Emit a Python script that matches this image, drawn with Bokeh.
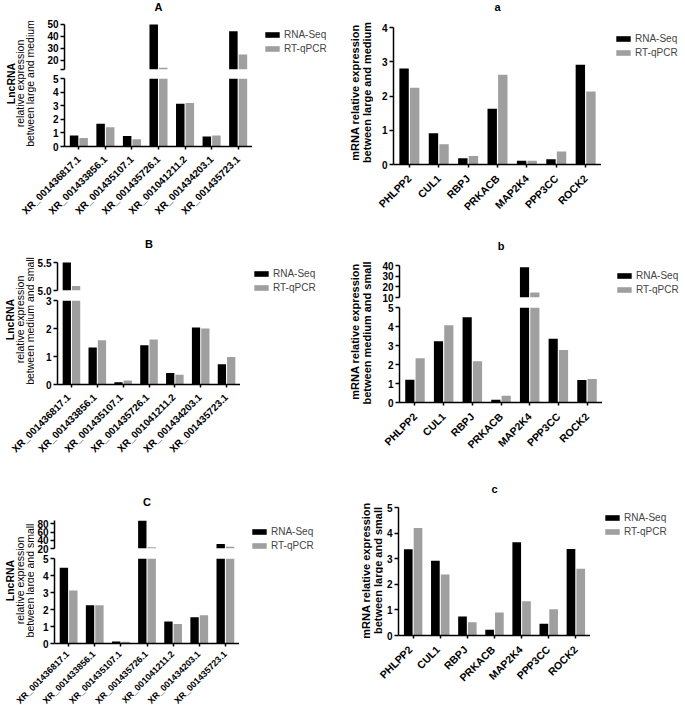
import math
from bokeh.plotting import figure
from bokeh.models import (Range1d, FixedTicker, Legend, LegendItem, Label, ColumnDataSource,
                          CDSView, BooleanFilter)
from bokeh.core.properties import value
from bokeh.transform import dodge
from bokeh.layouts import row, column
from bokeh.embed import file_html
from bokeh.resources import INLINE

# ---------------- data ----------------
lnc_names = ["XR_001436817.1", "XR_001433856.1", "XR_001435107.1", "XR_001435726.1",
             "XR_001041211.2", "XR_001434203.1", "XR_001435723.1"]
gene_names = ["PHLPP2", "CUL1", "RBPJ", "PRKACB", "MAP2K4", "PPP3CC", "ROCK2"]
series_names = ["RNA-Seq", "RT-qPCR"]

A_seq = [0.81, 1.67, 0.77, 50.0, 3.15, 0.74, 44.4]
A_qpcr = [0.63, 1.42, 0.53, 14.2, 3.20, 0.81, 25.2]
a_seq = [2.80, 0.91, 0.18, 1.63, 0.11, 0.15, 2.91]
a_qpcr = [2.24, 0.59, 0.25, 2.62, 0.11, 0.38, 2.13]
B_seq = [5.50, 1.32, 0.08, 1.40, 0.41, 2.04, 0.72]
B_qpcr = [5.08, 1.58, 0.14, 1.61, 0.35, 2.00, 0.98]
b_seq = [1.20, 3.23, 4.49, 0.14, 38.4, 3.36, 1.18]
b_qpcr = [2.33, 4.06, 2.17, 0.35, 14.7, 2.76, 1.24]
C_seq = [4.45, 2.25, 0.12, 87.5, 1.29, 1.54, 31.0]
C_qpcr = [3.12, 2.25, 0.10, 23.0, 1.15, 1.66, 24.5]
c_seq = [3.37, 2.92, 0.74, 0.22, 3.64, 0.46, 3.38]
c_qpcr = [4.20, 2.38, 0.52, 0.90, 1.34, 1.03, 2.61]

# axis segments (lower, upper) and tick values
A_low, A_up = (0, 5), (12.8, 50)
A_low_ticks, A_up_ticks = [0, 1, 2, 3, 4, 5], [20, 30, 40, 50]
a_rng, a_ticks = (0, 4), [0, 1, 2, 3, 4]
B_low, B_up = (0, 3), (5.0, 5.5)
B_low_ticks, B_up_ticks = [0, 1, 2, 3], [5.0, 5.5]
b_low, b_up = (0, 5), (10, 40)
b_low_ticks, b_up_ticks = [0, 1, 2, 3, 4, 5], [10, 20, 30, 40]
C_low, C_up = (0, 5), (20, 88)
C_low_ticks, C_up_ticks = [0, 1, 2, 3, 4, 5], [20, 40, 60, 80]
c_rng, c_ticks = (0, 5), [0, 1, 2, 3, 4, 5]

# ---------------- style ----------------
FONT = "Liberation Sans"
BLACK = "#000000"
GREY = "#9f9f9f"
BAR_W = 0.32
OFF = 0.18
PAD = 0.54
LEG_H = 2 * 11.2 + 3


def tick_labels(ticks, extra=None):
    frac = any(float(t) != int(t) for t in ticks)
    d = {t: (f"{t:.1f}" if frac else f"{int(t)}") for t in ticks}
    if extra is not None and extra not in d:
        d[extra] = " "
    return d


def style_y(p, ticks, bounds, extra=None):
    ax = p.yaxis[0]
    all_t = list(ticks) + ([extra] if extra is not None and extra not in ticks else [])
    ax.ticker = FixedTicker(ticks=all_t)
    ax.major_label_overrides = tick_labels(ticks, extra)
    ax.bounds = bounds
    ax.axis_line_width = 1.5
    ax.major_tick_line_width = 1.5
    ax.major_tick_in = 0
    ax.major_tick_out = 4
    ax.minor_tick_line_color = None
    ax.major_label_standoff = 2
    ax.major_label_text_font = FONT
    ax.major_label_text_font_style = "bold"
    ax.major_label_text_font_size = "10px"
    ax.major_label_text_color = "black"


def style_x_line(p, n):
    ax = p.xaxis[0]
    ax.ticker = FixedTicker(ticks=list(range(n)))
    ax.axis_line_width = 1.5
    ax.major_tick_line_width = 1.5
    ax.major_tick_in = 0
    ax.major_tick_out = 3
    ax.minor_tick_line_color = None
    ax.major_label_standoff = 0
    ax.major_label_text_font_size = "0px"
    ax.major_label_text_alpha = 0


def plain_fig(width, height, xr, yr):
    f = figure(width=width, height=height, x_range=xr, y_range=yr,
               output_backend="svg", toolbar_location=None, tools="",
               x_axis_location=None, y_axis_location=None, min_border=0)
    f.outline_line_color = None
    f.xgrid.visible = False
    f.ygrid.visible = False
    return f


def base_fig(x_range, y_range, width, height, mbl, mbt, mbb, xaxis):
    p = figure(x_range=x_range, y_range=y_range, width=width, height=height,
               output_backend="svg", toolbar_location=None, tools="",
               x_axis_location="below" if xaxis else None, y_axis_location="left",
               min_border_left=mbl, min_border_top=mbt, min_border_bottom=mbb,
               min_border_right=0)
    p.outline_line_color = None
    p.xgrid.visible = False
    p.ygrid.visible = False
    p.background_fill_color = "white"
    p.border_fill_color = "white"
    return p


def add_bars(p, src, seq, qpcr, floor=None):
    kw1, kw2 = {}, {}
    if floor is not None:
        kw1["view"] = CDSView(filter=BooleanFilter(booleans=[v > floor for v in seq]))
        kw2["view"] = CDSView(filter=BooleanFilter(booleans=[v > floor for v in qpcr]))
    r1 = p.vbar(x=dodge("x", -OFF), top="seq", bottom=0, width=BAR_W,
                source=src, fill_color=BLACK, line_color=None, **kw1)
    r2 = p.vbar(x=dodge("x", OFF), top="qpcr", bottom=0, width=BAR_W,
                source=src, fill_color=GREY, line_color=None, **kw2)
    return r1, r2


def legend_fig(g, hu):
    x_left = g["fl"] + g["fw"]
    w = g["x0"] + g["W"] - x_left
    f = plain_fig(w, hu, Range1d(0, w), Range1d(0, hu))
    # zero-height proxies (outside the visible range) that only carry the legend styling
    proxy = ColumnDataSource(dict(x=[-1.0], top=[0.0]))
    r1 = f.vbar(x="x", top="top", bottom=0, width=1, source=proxy, fill_color=BLACK, line_color=None)
    r2 = f.vbar(x="x", top="top", bottom=0, width=1, source=proxy, fill_color=GREY, line_color=None)
    vx = g["leg"][0] - x_left
    vy = (g["y0"] + hu) - (g["leg"][1] + LEG_H)
    leg = Legend(items=[LegendItem(label=series_names[0], renderers=[r1]),
                        LegendItem(label=series_names[1], renderers=[r2])],
                 location=(vx, vy), orientation="vertical", padding=0, margin=0,
                 spacing=3, glyph_width=18, glyph_height=7, label_standoff=3,
                 label_height=11, label_width=10,
                 label_text_font=FONT, label_text_font_size="10px",
                 border_line_color=None, background_fill_alpha=0)
    f.add_layout(leg)
    return f


def add_title(p, text, n, y):
    p.add_layout(Label(x=(n - 1) / 2, y=y, text=text, text_align="center", text_baseline="middle",
                       text_font=FONT, text_font_style="bold", text_font_size="11px",
                       text_color="black"))


def label_fig(width, height, lines):
    f = plain_fig(width, height, Range1d(0, width), Range1d(0, height))
    for (x, y, text, style, size) in lines:
        f.add_layout(Label(x=x, y=y, text=text, angle=math.pi / 2, text_align="center",
                           text_baseline="middle", text_font=FONT, text_font_style=style,
                           text_font_size=size, text_color="black"))
    return f


def xlabel_fig(cats, g, size):
    n = len(cats)
    ppu = g["fw"] / (n - 1 + 2 * PAD)
    xs = -PAD - (g["fl"] - g["x0"]) / ppu
    xe = xs + g["W"] / ppu
    hx = g["y0"] + g["H"] - g["bottom"] - g["xb"]
    f = plain_fig(g["W"], hx, Range1d(xs, xe), Range1d(-hx, 0))
    src = ColumnDataSource(dict(x=list(range(n)), name=cats))
    f.text(x="x", y=-(g["drop"] - g["xb"]), text="name", source=src, angle=math.pi / 4,
           text_align="right", text_baseline="middle", text_font=value(FONT),
           text_font_style="bold", text_font_size=size, text_color="black")
    return f


def make_source(cats, seq, qpcr):
    return ColumnDataSource(dict(x=list(range(len(cats))), cat=cats, seq=seq, qpcr=qpcr))


def broken_block(cats, seq, qpcr, low, up, low_t, up_t, g, title, labels, xsize):
    mbl = g["fl"] - g["x0"] - g["lw"]
    mw = mbl + g["fw"]
    n = len(cats)
    xr = Range1d(-PAD, n - 1 + PAD)
    src = make_source(cats, seq, qpcr)
    gap_top = g["gap"] // 2
    gap_bot = g["gap"] - gap_top
    head = g["up_top"] - g["y0"]            # space above the segment, inside the frame
    ppu = g["up_h"] / (up[1] - up[0])
    top_h = head + g["up_h"] + gap_top
    pt = base_fig(xr, Range1d(up[0], up[1] + head / ppu), mw, top_h, mbl, 0, gap_top, False)
    add_bars(pt, src, seq, qpcr, floor=up[0])
    style_y(pt, up_t, up, extra=(up[0] if up[0] not in up_t else None))
    add_title(pt, title, n, up[1] + (g["up_top"] - g["ty"]) / ppu)
    bot_h = gap_bot + g["low_h"] + g["xb"]
    pb = base_fig(xr, Range1d(*low), mw, bot_h, mbl, gap_bot, g["xb"], True)
    add_bars(pb, src, seq, qpcr)
    style_y(pb, low_t, low)
    style_x_line(pb, n)
    hu = top_h + bot_h
    lf = label_fig(g["lw"], hu, labels)
    lg = legend_fig(g, hu)
    upper = row(lf, column(pt, pb, spacing=0, width=mw, height=hu),
                column(lg, spacing=0, width=lg.width, height=hu),
                spacing=0, width=g["W"], height=hu)
    xl = xlabel_fig(cats, g, xsize)
    return column(upper, xl, spacing=0, width=g["W"], height=g["H"])


def single_block(cats, seq, qpcr, rng, ticks, g, title, labels, xsize):
    mbl = g["fl"] - g["x0"] - g["lw"]
    mw = mbl + g["fw"]
    n = len(cats)
    xr = Range1d(-PAD, n - 1 + PAD)
    src = make_source(cats, seq, qpcr)
    head = g["top"] - g["y0"]
    ppu = g["h"] / (rng[1] - rng[0])
    hu = head + g["h"] + g["xb"]
    p = base_fig(xr, Range1d(rng[0], rng[1] + head / ppu), mw, hu, mbl, 0, g["xb"], True)
    add_bars(p, src, seq, qpcr)
    style_y(p, ticks, rng)
    style_x_line(p, n)
    add_title(p, title, n, rng[1] + (g["top"] - g["ty"]) / ppu)
    lf = label_fig(g["lw"], hu, labels)
    lg = legend_fig(g, hu)
    upper = row(lf, column(p, spacing=0, width=mw, height=hu),
                column(lg, spacing=0, width=lg.width, height=hu),
                spacing=0, width=g["W"], height=hu)
    xl = xlabel_fig(cats, g, xsize)
    return column(upper, xl, spacing=0, width=g["W"], height=g["H"])


# ---------------- layout geometry (page pixels) ----------------
gA = dict(x0=0, W=345, y0=0, H=216, lw=36, fl=64, fw=188, up_top=24, up_h=45, gap=9, low_h=68,
          leg=(263, 29), ty=6, xb=6, drop=11)
gA["bottom"] = gA["up_top"] + gA["up_h"] + gA["gap"] + gA["low_h"]
ga = dict(x0=345, W=340, y0=0, H=216, lw=28, fl=393, fw=208, top=27, h=137,
          leg=(614, 33), ty=6, xb=6, drop=12)
ga["bottom"] = ga["top"] + ga["h"]
gB = dict(x0=0, W=345, y0=216, H=244, lw=34, fl=54, fw=186, up_top=262, up_h=28, gap=10, low_h=84,
          leg=(252, 267.5), ty=243, xb=6, drop=11)
gB["bottom"] = gB["up_top"] + gB["up_h"] + gB["gap"] + gB["low_h"]
gb = dict(x0=345, W=340, y0=216, H=244, lw=28, fl=399, fw=203, up_top=265, up_h=32, gap=10, low_h=95,
          leg=(615, 270), ty=245, xb=6, drop=12)
gb["bottom"] = gb["up_top"] + gb["up_h"] + gb["gap"] + gb["low_h"]
gC = dict(x0=0, W=345, y0=460, H=245, lw=34, fl=53, fw=186, up_top=520, up_h=28, gap=10, low_h=85,
          leg=(250, 525.5), ty=501, xb=5, drop=9)
gC["bottom"] = gC["up_top"] + gC["up_h"] + gC["gap"] + gC["low_h"]
gc = dict(x0=345, W=340, y0=460, H=245, lw=38, fl=395, fw=195, top=507, h=128,
          leg=(603, 511.5), ty=488, xb=6, drop=12)
gc["bottom"] = gc["top"] + gc["h"]


def ylab_lines(g, xs, center_y, texts, styles, size):
    hu = g["bottom"] + g["xb"] - g["y0"]
    y = hu - (center_y - g["y0"])
    return [(x - g["x0"], y, t, s, sz) for x, t, s, sz in zip(xs, texts, styles, size)]


labA = ylab_lines(gA, [10, 19.5, 29.5], 83,
                  ["LncRNA", "relative expression", "between large and medium"],
                  ["bold", "normal", "normal"], ["10.5px"] * 3)
laba = ylab_lines(ga, [354.5, 366.5], 92,
                  ["mRNA relative expression", "between large and medium"],
                  ["bold", "bold"], ["11px"] * 2)
labB = ylab_lines(gB, [9.5, 19, 29], 319,
                  ["LncRNA", "relative expression", "between  medium and small"],
                  ["bold", "normal", "normal"], ["10.5px"] * 3)
labb = ylab_lines(gb, [354.5, 366.5], 331,
                  ["mRNA relative expression", "between  medium and small"],
                  ["bold", "bold"], ["11px"] * 2)
labC = ylab_lines(gC, [9.5, 19, 29], 580,
                  ["LncRNA", "relative expression", "between large and small"],
                  ["bold", "normal", "normal"], ["10.5px"] * 3)
labc = ylab_lines(gc, [365, 377], 570,
                  ["mRNA relative expression", "between large and small"],
                  ["bold", "bold"], ["11px"] * 2)

blkA = broken_block(lnc_names, A_seq, A_qpcr, A_low, A_up, A_low_ticks, A_up_ticks, gA, "A", labA, "10px")
blka = single_block(gene_names, a_seq, a_qpcr, a_rng, a_ticks, ga, "a", laba, "10.5px")
blkB = broken_block(lnc_names, B_seq, B_qpcr, B_low, B_up, B_low_ticks, B_up_ticks, gB, "B", labB, "10px")
blkb = broken_block(gene_names, b_seq, b_qpcr, b_low, b_up, b_low_ticks, b_up_ticks, gb, "b", labb, "10.5px")
blkC = broken_block(lnc_names, C_seq, C_qpcr, C_low, C_up, C_low_ticks, C_up_ticks, gC, "C", labC, "9px")
blkc = single_block(gene_names, c_seq, c_qpcr, c_rng, c_ticks, gc, "c", labc, "10.5px")

page = column(row(blkA, blka, spacing=0, width=685, height=216),
              row(blkB, blkb, spacing=0, width=685, height=244),
              row(blkC, blkc, spacing=0, width=685, height=245),
              spacing=0, width=685, height=705)

open("out.html", "w").write(file_html(page, INLINE))
